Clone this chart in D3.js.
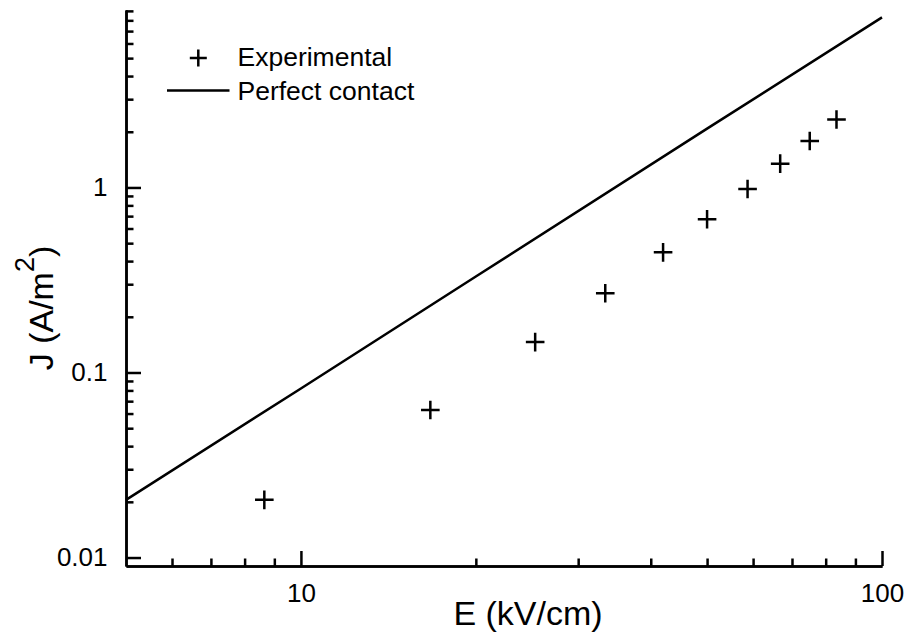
<!DOCTYPE html>
<html>
<head>
<meta charset="utf-8">
<script src="https://cdn.jsdelivr.net/npm/d3@7"></script>
<style>
  html, body { margin: 0; padding: 0; background: #fff; }
  svg { display: block; font-family: Arial, "Liberation Sans", sans-serif; }
</style>
</head>
<body>
<svg id="chart" width="906" height="632"></svg>
<script>
// ---- data ----
const expE = [8.65, 16.7, 25.3, 33.4, 42.0, 50.0, 58.7, 66.8, 75.1, 83.5];
const expJ = [0.0205, 0.0627, 0.146, 0.268, 0.446, 0.673, 0.981, 1.345, 1.784, 2.33];
const perfE = [5, 10, 20, 50, 100];
const perfJ = [0.0205, 0.082, 0.33, 2.08, 8.3];
const xMajor = [10, 100];
const xMinor = [6, 7, 8, 9, 20, 30, 40, 50, 60, 70, 80, 90];
const yMajor = [0.01, 0.1, 1];
const yMinor = [0.02, 0.03, 0.04, 0.05, 0.06, 0.07, 0.08, 0.09,
                0.2, 0.3, 0.4, 0.5, 0.6, 0.7, 0.8, 0.9,
                2, 3, 4, 5, 6, 7, 8, 9];
const legendLabels = ["Experimental", "Perfect contact"];

// ---- chart ----
const svg = d3.select("#chart");
const x = d3.scaleLog().domain([5, 100]).range([126, 882]);
const y = d3.scaleLog().domain([0.009, 9.1]).range([566, 10]);
const SW = 2.5;
const TICK_FS = 26;

function styleAxis(g) {
  g.attr("font-size", TICK_FS).attr("font-family", 'Arial, "Liberation Sans", sans-serif');
  g.selectAll("path.domain").attr("stroke", "#000").attr("stroke-width", SW);
  g.selectAll(".tick line").attr("stroke", "#000").attr("stroke-width", SW);
  g.selectAll(".tick text").attr("fill", "#000").attr("font-size", TICK_FS);
}

// x axis
const gx = svg.append("g").attr("transform", "translate(0,566)");
gx.append("g").call(d3.axisBottom(x).tickValues(xMinor).tickSizeInner(-7.5).tickSizeOuter(0).tickFormat(""))
  .call(styleAxis);
gx.append("g").call(d3.axisBottom(x).tickValues(xMajor).tickSizeInner(-15).tickSizeOuter(0)
  .tickPadding(18).tickFormat(d3.format("d"))).call(styleAxis);

// y axis
const gy = svg.append("g").attr("transform", "translate(126,0)");
gy.append("g").call(d3.axisLeft(y).tickValues(yMinor).tickSizeInner(-7.5).tickSizeOuter(0).tickFormat(""))
  .call(styleAxis);
gy.append("g").call(d3.axisLeft(y).tickValues(yMajor).tickSizeInner(-15).tickSizeOuter(0)
  .tickPadding(18.5).tickFormat(d => d >= 1 ? d3.format("d")(d) : String(d))).call(styleAxis);

// perfect contact line
svg.append("path")
  .datum(perfE.map((e, i) => [e, perfJ[i]]))
  .attr("fill", "none").attr("stroke", "#000").attr("stroke-width", SW)
  .attr("d", d3.line().x(d => x(d[0])).y(d => y(d[1])));

// experimental points
function plusPath(cx, cy, s) {
  return `M${cx - s},${cy}H${cx + s}M${cx},${cy - s}V${cy + s}`;
}
svg.append("g").selectAll("path")
  .data(expE.map((e, i) => [e, expJ[i]]))
  .join("path")
  .attr("d", d => plusPath(x(d[0]), y(d[1]), 9.3))
  .attr("stroke", "#000").attr("stroke-width", SW).attr("fill", "none");

// legend
const lg = svg.append("g");
lg.append("path").attr("d", plusPath(198.3, 58, 8.5))
  .attr("stroke", "#000").attr("stroke-width", SW);
lg.append("line").attr("x1", 167).attr("x2", 229.5).attr("y1", 90.5).attr("y2", 90.5)
  .attr("stroke", "#000").attr("stroke-width", SW);
lg.selectAll("text").data(legendLabels).join("text")
  .attr("x", 237.5).attr("y", (d, i) => 66 + i * 34)
  .attr("font-size", 26.5).attr("fill", "#000").text(d => d);

// axis titles
svg.append("text").attr("x", 528).attr("y", 625).attr("text-anchor", "middle")
  .attr("font-size", 34).attr("fill", "#000").text("E (kV/cm)");

const yt = svg.append("text").attr("transform", "translate(53,308) rotate(-90)")
  .attr("text-anchor", "middle").attr("font-size", 34).attr("fill", "#000");
yt.append("tspan").text("J (A/m");
yt.append("tspan").attr("font-size", 27).attr("dy", -19).text("2");
yt.append("tspan").attr("dy", 19).text(")");
</script>
</body>
</html>
